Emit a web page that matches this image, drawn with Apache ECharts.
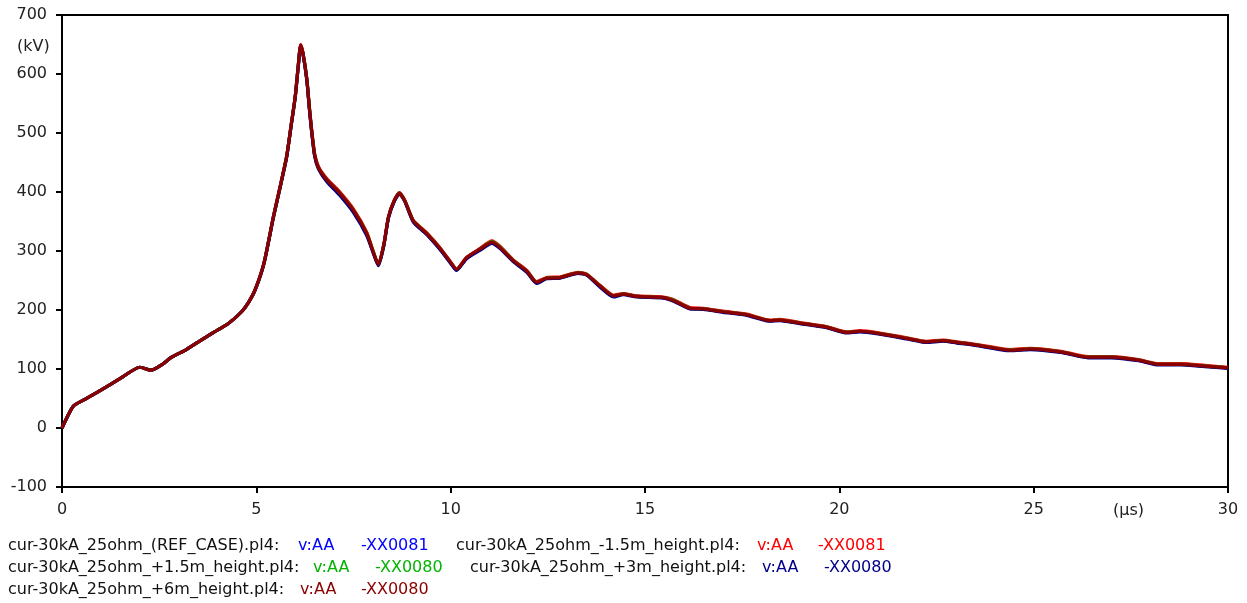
<!DOCTYPE html>
<html>
<head>
<meta charset="utf-8">
<script src="https://cdn.jsdelivr.net/npm/echarts@6/dist/echarts.min.js"></script>
<style>
  html, body { margin: 0; padding: 0; background: #fff; }
  #chart { width: 1247px; height: 603px; }
</style>
</head>
<body>
<div id="chart"></div>
<script>
// Time samples (µs), shared by all runs
const timeUs = [0, 0.29, 0.6, 1.0, 1.5, 2.0, 2.29, 2.56, 2.82, 3.2, 3.51, 3.9, 4.28, 4.62, 4.8, 4.97,
  5.2, 5.44, 5.6, 5.78, 5.9, 6.0, 6.08, 6.14, 6.2, 6.3, 6.36, 6.42, 6.5, 6.6, 6.81, 7.15, 7.5, 7.84,
  8.0, 8.14, 8.28, 8.4, 8.55, 8.68, 8.82, 9.04, 9.38, 9.72, 10.0, 10.15, 10.41, 10.75, 11.06, 11.27,
  11.61, 11.96, 12.21, 12.47, 12.81, 13.28, 13.5, 13.84, 14.19, 14.44, 14.78, 15.47, 15.73, 16.16,
  16.5, 17.01, 17.62, 18.21, 18.47, 19.07, 19.67, 20.19, 20.53, 21.04, 21.73, 22.24, 22.67, 23.02,
  23.5, 24.4, 24.9, 25.7, 26.4, 27.0, 27.7, 28.2, 28.8, 29.4, 30.0];

// Voltage at node AA (kV) for each case
const refCase = [0, 37, 49, 64, 84, 103, 98, 107, 120, 133, 146, 162, 177, 197, 213, 234,
  280, 358, 405, 460, 515, 561, 615, 649, 635, 590, 545, 505, 462, 440, 420, 396, 367, 328,
  299, 276, 310, 357, 385, 398, 385, 350, 329, 304, 280, 268, 288, 302, 315, 306,
  283, 265, 246, 254, 255, 263, 260, 240, 223, 227, 223, 221, 216, 203,
  202, 197, 192, 182, 183, 177, 171, 162, 164, 160, 152, 146, 148, 145,
  141, 132, 134, 129, 120, 120, 115, 108, 108, 105, 102];
const minus1_5m = [0, 37, 49, 64, 84, 103, 98, 107, 120, 133, 146, 162, 177, 197, 213, 235,
  281, 359, 406, 461, 516, 562, 616, 650, 636, 592, 548, 508, 465, 443, 423, 400, 371, 332,
  301, 277, 311, 358, 386, 399, 386, 352, 331, 306, 281, 269, 289, 304, 317, 308,
  285, 267, 248, 255, 256, 264, 261, 242, 225, 228, 224, 222, 218, 204,
  203, 198, 193, 183, 184, 178, 172, 163, 165, 161, 153, 147, 149, 146,
  142, 133, 135, 130, 121, 121, 116, 109, 109, 106, 103];
const plus1_5m = [0, 37, 49, 64, 84, 103, 98, 107, 120, 133, 146, 162, 177, 197, 213, 234,
  280, 358, 405, 460, 515, 561, 614, 648, 635, 591, 546, 506, 463, 441, 421, 398, 369, 330,
  300, 276, 310, 357, 385, 398, 385, 351, 330, 305, 280, 268, 288, 303, 316, 307,
  284, 266, 247, 254, 255, 263, 260, 241, 224, 227, 223, 221, 217, 203,
  202, 197, 192, 182, 183, 177, 171, 162, 164, 160, 152, 146, 148, 145,
  141, 132, 134, 129, 120, 120, 115, 108, 108, 105, 102];
const plus3m = [0, 37, 49, 64, 84, 103, 98, 107, 120, 133, 146, 162, 177, 197, 213, 234,
  280, 357, 404, 459, 514, 560, 613, 647, 634, 589, 544, 504, 461, 439, 418, 394, 365, 326,
  298, 275, 309, 356, 384, 397, 384, 349, 328, 303, 279, 267, 287, 301, 313, 304,
  282, 264, 245, 253, 254, 262, 259, 239, 222, 226, 222, 220, 215, 202,
  201, 196, 191, 181, 182, 176, 170, 161, 163, 159, 151, 145, 147, 144,
  140, 131, 133, 128, 119, 119, 114, 107, 107, 104, 101];
const plus6m = [0, 37, 49, 64, 84, 103, 98, 107, 120, 133, 146, 162, 177, 197, 213, 234,
  280, 358, 405, 460, 515, 561, 615, 649, 635, 590, 546, 506, 463, 441, 421, 398, 369, 330,
  300, 277, 311, 358, 386, 398, 385, 351, 330, 305, 281, 269, 289, 303, 315, 306,
  284, 266, 247, 254, 255, 263, 260, 241, 224, 227, 223, 221, 216, 203,
  202, 197, 192, 182, 183, 177, 171, 162, 164, 160, 152, 146, 148, 145,
  141, 132, 134, 129, 120, 120, 115, 108, 108, 105, 102];

const xTicks = [0, 5, 10, 15, 20, 25, 30];
const yTicks = [-100, 0, 100, 200, 300, 400, 500, 600, 700];

const runs = [
  { file: 'cur-30kA_25ohm_(REF_CASE).pl4:', node: 'v:AA', branch: '-XX0081', color: '#0000ff', values: refCase },
  { file: 'cur-30kA_25ohm_-1.5m_height.pl4:', node: 'v:AA', branch: '-XX0081', color: '#ff0000', values: minus1_5m },
  { file: 'cur-30kA_25ohm_+1.5m_height.pl4:', node: 'v:AA', branch: '-XX0080', color: '#00b400', values: plus1_5m },
  { file: 'cur-30kA_25ohm_+3m_height.pl4:', node: 'v:AA', branch: '-XX0080', color: '#000088', values: plus3m },
  { file: 'cur-30kA_25ohm_+6m_height.pl4:', node: 'v:AA', branch: '-XX0080', color: '#8b0000', values: plus6m }
];

const FONT = 'DejaVu Sans';
const FS = 16;
const chart = echarts.init(document.getElementById('chart'), null, { renderer: 'canvas' });

// Legend entries: [x of file name, x of node, x of branch, y]
const legendPos = [
  [8, 298, 361, 546],
  [456, 757, 818, 546],
  [8, 313, 375, 568],
  [470, 762, 824, 568],
  [8, 300, 361, 590]
];
const legendGraphics = [];
runs.forEach((r, i) => {
  const p = legendPos[i];
  const base = { font: FS + 'px ' + FONT, textVerticalAlign: 'middle' };
  legendGraphics.push({ type: 'text', x: p[0], y: p[3], style: Object.assign({ text: r.file, fill: '#111' }, base) });
  legendGraphics.push({ type: 'text', x: p[1], y: p[3], style: Object.assign({ text: r.node, fill: r.color }, base) });
  legendGraphics.push({ type: 'text', x: p[2], y: p[3], style: Object.assign({ text: r.branch, fill: r.color }, base) });
});

chart.setOption({
  animation: false,
  backgroundColor: '#fff',
  grid: { left: 62, right: 19, top: 15, bottom: 116, show: true, borderColor: '#000', borderWidth: 2 },
  xAxis: {
    type: 'value', min: xTicks[0], max: xTicks[xTicks.length - 1], interval: 5,
    axisLine: { show: true, onZero: false, lineStyle: { color: '#000', width: 2 } },
    axisTick: { show: true, length: 6, inside: false, lineStyle: { color: '#000', width: 2 } },
    axisLabel: { color: '#222', fontFamily: FONT, fontSize: FS, margin: 15 },
    splitLine: { show: false }
  },
  yAxis: {
    type: 'value', min: yTicks[0], max: yTicks[yTicks.length - 1], interval: 100,
    axisLine: { show: true, lineStyle: { color: '#000', width: 2 } },
    axisTick: { show: true, length: 6, lineStyle: { color: '#000', width: 2 } },
    axisLabel: { color: '#222', fontFamily: FONT, fontSize: FS, margin: 15 },
    splitLine: { show: false }
  },
  graphic: [
    { type: 'text', x: 17, y: 47, style: { text: '(kV)', fill: '#222', font: FS + 'px ' + FONT, textVerticalAlign: 'middle' } },
    { type: 'text', x: 1113, y: 511, style: { text: '(µs)', fill: '#222', font: FS + 'px ' + FONT, textVerticalAlign: 'middle' } }
  ].concat(legendGraphics),
  series: runs.map(r => ({
    type: 'line',
    name: r.file,
    data: timeUs.map((t, k) => [t, r.values[k]]),
    showSymbol: false,
    smooth: 0.2,
    lineStyle: { color: r.color, width: 3.2 },
    emphasis: { disabled: true }
  }))
});
</script>
</body>
</html>
